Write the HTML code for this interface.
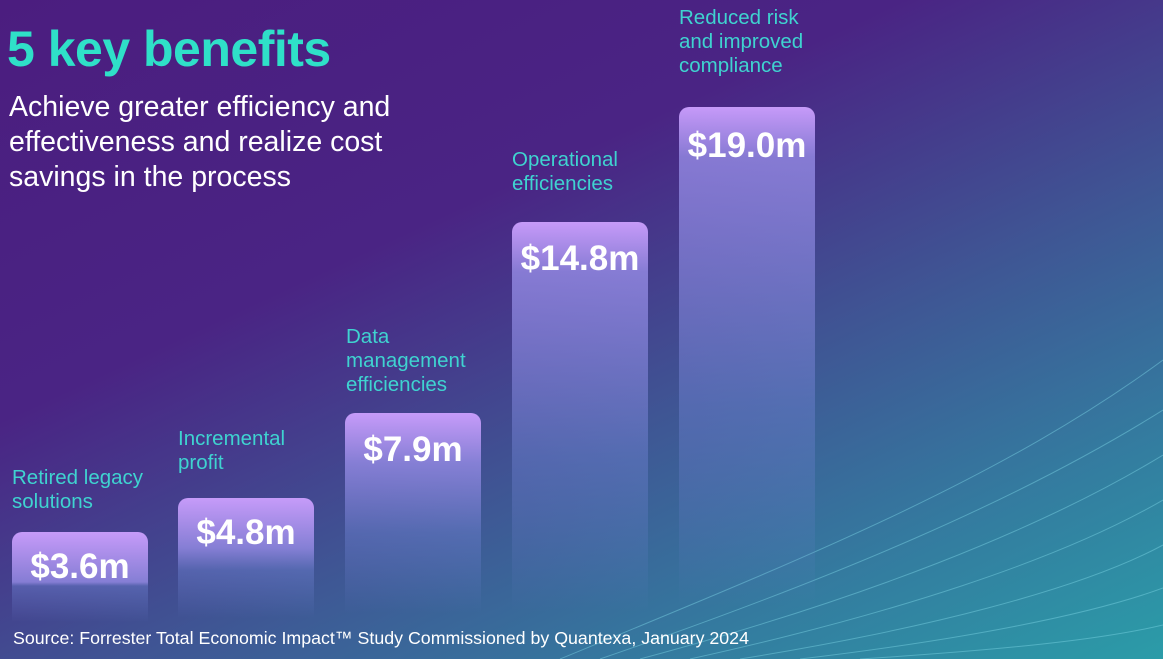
<!DOCTYPE html>
<html><head><style>
*{margin:0;padding:0}
body{width:1163px;height:659px;overflow:hidden;position:relative;font-family:"Liberation Sans",sans-serif;
background:linear-gradient(155deg,#4b1d7f 0%,#4a2484 35%,#3f5594 60%,#347a9f 80%,#2b9ca8 100%);}
.t{position:absolute;color:#3fd3d0;font-size:20.5px;line-height:24px}
.bar{position:absolute;width:136px;border-radius:10px 10px 0 0;
background:linear-gradient(180deg,rgba(205,160,255,0.95) 0px,rgba(150,140,230,0.8) 50px,rgba(110,130,210,0.45) 60%,rgba(90,100,190,0) 100%);}
.v{position:absolute;width:136px;text-align:center;color:#fff;font-weight:bold;font-size:35px}
</style></head><body>
<svg style="position:absolute;left:0;top:0" width="1163" height="659">
<g fill="none" stroke="#7fd8e6" stroke-opacity="0.45" stroke-width="1">
<path d="M560 659 C800 560 1000 480 1163 360"/>
<path d="M600 659 C830 580 1020 500 1163 410"/>
<path d="M640 659 C860 600 1040 530 1163 455"/>
<path d="M690 659 C890 615 1060 560 1163 500"/>
<path d="M740 659 C920 630 1080 590 1163 545"/>
<path d="M800 659 C960 640 1090 615 1163 588"/>
<path d="M860 659 C1000 650 1100 640 1163 625"/>
</g></svg>
<div style="position:absolute;left:7px;top:20px;color:#2fe0c8;font-weight:bold;font-size:50px;letter-spacing:-0.5px">5 key benefits</div>
<div style="position:absolute;left:9px;top:90px;color:#fff;font-size:28.5px;line-height:35px">Achieve greater efficiency and<br>effectiveness and realize cost<br>savings in the process</div>
<div class="t" style="left:12px;top:466px">Retired legacy<br>solutions</div>
<div class="t" style="left:178px;top:427px">Incremental<br>profit</div>
<div class="t" style="left:346px;top:325px">Data<br>management<br>efficiencies</div>
<div class="t" style="left:512px;top:148px">Operational<br>efficiencies</div>
<div class="t" style="left:679px;top:6px">Reduced risk<br>and improved<br>compliance</div>
<div class="bar" style="left:12px;top:532px;height:90px"></div>
<div class="bar" style="left:178px;top:498px;height:120px"></div>
<div class="bar" style="left:345px;top:413px;height:200px"></div>
<div class="bar" style="left:512px;top:222px;height:390px"></div>
<div class="bar" style="left:679px;top:107px;height:500px"></div>
<div class="v" style="left:12px;top:547px">$3.6m</div>
<div class="v" style="left:178px;top:513px">$4.8m</div>
<div class="v" style="left:345px;top:430px">$7.9m</div>
<div class="v" style="left:512px;top:239px">$14.8m</div>
<div class="v" style="left:679px;top:126px">$19.0m</div>
<div style="position:absolute;left:13px;top:628px;color:#fff;font-size:17.8px">Source: Forrester Total Economic Impact™ Study Commissioned by Quantexa, January 2024</div>
</body></html>
